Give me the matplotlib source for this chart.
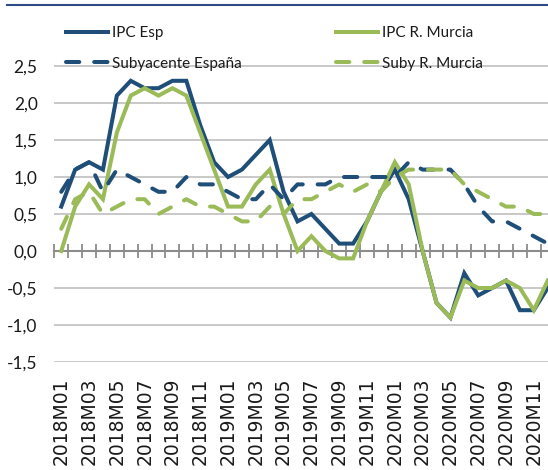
import numpy as np
import matplotlib
matplotlib.use("Agg")
import matplotlib.pyplot as plt
from matplotlib.lines import Line2D

# monthly series 2018M01 .. 2020M12 (annual rate, %)
months = [f"{y}M{m:02d}" for y in (2018, 2019, 2020) for m in range(1, 13)]

ipc_esp = [0.6, 1.1, 1.2, 1.1, 2.1, 2.3, 2.2, 2.2, 2.3, 2.3, 1.7, 1.2,
           1.0, 1.1, 1.3, 1.5, 0.8, 0.4, 0.5, 0.3, 0.1, 0.1, 0.4, 0.8,
           1.1, 0.7, 0.0, -0.7, -0.9, -0.3, -0.6, -0.5, -0.4, -0.8, -0.8, -0.5]

ipc_mur = [0.0, 0.6, 0.9, 0.7, 1.6, 2.1, 2.2, 2.1, 2.2, 2.1, 1.6, 1.1,
           0.6, 0.6, 0.9, 1.1, 0.5, 0.0, 0.2, 0.0, -0.1, -0.1, 0.4, 0.8,
           1.2, 0.9, 0.0, -0.7, -0.9, -0.4, -0.5, -0.5, -0.4, -0.5, -0.8, -0.4]

sub_esp = [0.8, 1.1, 1.2, 0.8, 1.1, 1.0, 0.9, 0.8, 0.8, 1.0, 0.9, 0.9,
           0.8, 0.7, 0.7, 0.9, 0.7, 0.9, 0.9, 0.9, 1.0, 1.0, 1.0, 1.0,
           1.0, 1.2, 1.1, 1.1, 1.1, 0.9, 0.6, 0.4, 0.4, 0.3, 0.2, 0.1]

sub_mur = [0.3, 0.7, 0.8, 0.5, 0.6, 0.7, 0.7, 0.5, 0.6, 0.7, 0.6, 0.6,
           0.5, 0.4, 0.4, 0.6, 0.5, 0.7, 0.7, 0.8, 0.9, 0.8, 0.9, 0.8,
           1.0, 1.1, 1.1, 1.1, 1.1, 0.9, 0.8, 0.7, 0.6, 0.6, 0.5, 0.5]

yticks = [-1.5, -1.0, -0.5, 0.0, 0.5, 1.0, 1.5, 2.0, 2.5]

BLUE = "#1F4E79"
GREEN = "#9BBB59"
GRID = "#BFBFBF"
AXIS = "#8C8C8C"
TXT = "#1a1a1a"
narrow = ["Lato", "DejaVu Sans"]

fig = plt.figure(figsize=(5.48, 4.70), dpi=100)
ax = fig.add_axes([0.0991, 0.2298, 0.913, 0.7085])

x = np.arange(len(months))
lw = 2.9
dash = (0, (3.3, 3.7))
ax.plot(x, ipc_esp, color=BLUE, lw=lw, zorder=3, solid_joinstyle="miter")
ax.plot(x, ipc_mur, color=GREEN, lw=lw, zorder=4, solid_joinstyle="miter")
ax.plot(x, sub_esp, color=BLUE, lw=lw, ls=dash, dash_capstyle="round", zorder=5)
ax.plot(x, sub_mur, color=GREEN, lw=lw, ls=dash, dash_capstyle="round", zorder=6)

ax.set_xlim(-0.5, len(months) - 0.5)
ax.set_ylim(-1.5, 3.0)
ax.set_yticks(yticks)
ax.set_yticklabels([f"{v:.1f}".replace(".", ",") for v in yticks],
                   fontfamily=narrow, fontsize=12.5, color=TXT)
ax.tick_params(axis="y", length=0, pad=12)
ax.grid(axis="y", color=GRID, lw=1.2, zorder=0)
ax.set_axisbelow(True)

for s in ("top", "right", "left"):
    ax.spines[s].set_visible(False)
ax.spines["bottom"].set_position(("data", 0))
ax.spines["bottom"].set_color(AXIS)
ax.spines["bottom"].set_linewidth(1.5)
ax.spines["bottom"].set_zorder(2)
ax.set_xticks(np.arange(-0.5, len(months), 1.0))
ax.set_xticklabels([])
ax.tick_params(axis="x", direction="inout", length=9.5, width=1.3, color=AXIS)

# category labels at the bottom of the plot
sec = ax.secondary_xaxis(0.0)
sec.set_xticks(x[::2])
sec.set_xticklabels(months[::2], rotation=90, fontfamily="DejaVu Sans",
                    fontsize=13.5, color=TXT)
sec.tick_params(length=0, pad=11)
sec.spines["bottom"].set_visible(False)

# top border line
fig.add_artist(Line2D([7 / 548, 1.0], [0.989, 0.989], color="#2F4A87", lw=1.5))

h_esp = Line2D([], [], color=BLUE, lw=lw)
h_sub = Line2D([], [], color=BLUE, lw=lw, ls=dash, dash_capstyle="round")
h_mur = Line2D([], [], color=GREEN, lw=lw)
h_smur = Line2D([], [], color=GREEN, lw=lw, ls=dash, dash_capstyle="round")

leg_kw = dict(loc="upper left", frameon=False, borderpad=0, borderaxespad=0,
              handlelength=2.75, handletextpad=0.25, labelspacing=1.1,
              prop={"family": narrow, "size": 11})
leg1 = fig.legend([h_esp, h_sub], ["IPC Esp", "Subyacente España"],
                  bbox_to_anchor=(66 / 548, 0.945), **leg_kw)
leg2 = fig.legend([h_mur, h_smur], ["IPC R. Murcia", "Suby R. Murcia"],
                  bbox_to_anchor=(336 / 548, 0.945), **leg_kw)
for leg in (leg1, leg2):
    for t in leg.get_texts():
        t.set_color(TXT)

fig.savefig("out.png", dpi=100)
